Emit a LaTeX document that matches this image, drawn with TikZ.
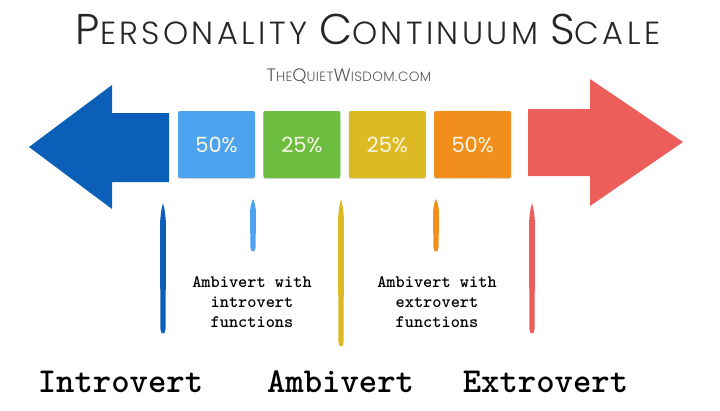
\documentclass[tikz,border=0pt]{standalone}
\usepackage{fontspec}
\usepackage{xcolor}
\usetikzlibrary{positioning,shadows}
\newfontfamily\titlefont{Poppins Light}[LetterSpace=10.5]
\newfontfamily\sitefont{Poppins Light}[LetterSpace=3]
\newfontfamily\pctfont{Poppins}

\definecolor{introblue}{RGB}{11,95,184}
\definecolor{lightblue}{RGB}{77,163,240}
\definecolor{ambigreen}{RGB}{108,189,64}
\definecolor{ambiyellow}{RGB}{221,186,36}
\definecolor{extroorange}{RGB}{242,142,28}
\definecolor{extrored}{RGB}{235,94,90}
\definecolor{boxtext}{RGB}{250,246,228}

\begin{document}
\begin{tikzpicture}[x=1pt, y=-1pt,
        pctbox/.style={rectangle, rounded corners=2pt, minimum width=77pt, minimum height=67pt, inner sep=0pt, text=boxtext, font=\pctfont\fontsize{21}{21}\selectfont, drop shadow={opacity=0.25, shadow xshift=0pt, shadow yshift=-1.2pt}},
        typelabel/.style={font=\ttfamily\bfseries\fontsize{35}{35}\selectfont, anchor=base},
        notelabel/.style={font=\ttfamily\bfseries\fontsize{17.5}{20}\selectfont, align=center}
    ]
    \useasboundingbox (0,0) rectangle (720,410);

    % Heading
    \node[anchor=base, font=\titlefont, text=black!85] (title) at (368,44) {%
        {\fontsize{43}{43}\selectfont P}\fontsize{32}{32}\selectfont ERSONALITY
        {\fontsize{43}{43}\selectfont C}ONTINUUM
        {\fontsize{43}{43}\selectfont S}CALE};
    \node[anchor=base, font=\sitefont, text=black!65] (site) at (349,81) {%
        {\fontsize{18}{18}\selectfont T}\fontsize{13.5}{13.5}\selectfont HE{\fontsize{18}{18}\selectfont Q}UIET{\fontsize{18}{18}\selectfont W}ISDOM.COM};

    % Big arrows at both ends
    \fill[introblue] (29,147) -- (112,85) -- (112,113) -- (169,113) -- (169,182) -- (112,182) -- (112,209) -- cycle;
    \fill[extrored] (683,142) -- (590,79) -- (590,109) -- (528,109) -- (528,176) -- (590,176) -- (590,206) -- cycle;

    % Percentage boxes
    \node[pctbox, fill=lightblue] (box1) at (216.5,144.5) {50\%};
    \node[pctbox, fill=ambigreen, right=8pt of box1] (box2) {25\%};
    \node[pctbox, fill=ambiyellow, right=8pt of box2] (box3) {25\%};
    \node[pctbox, fill=extroorange, right=8pt of box3] (box4) {50\%};

    % Brush marks
    \fill[introblue, shift={(163,203)}] (0,0) .. controls (2,8) .. (3,20) -- (2.6,126) .. controls (2.5,132) and (-2.5,132) .. (-2.6,126) -- (-3,20) .. controls (-2,8) .. cycle;
    \fill[lightblue, shift={(253,199)}] (0,0) .. controls (2,5) .. (3,12) -- (2.6,48) .. controls (2.5,54) and (-2.5,54) .. (-2.6,48) -- (-3,12) .. controls (-2,5) .. cycle;
    \fill[ambiyellow, shift={(341,199)}] (0,0) .. controls (2,8) .. (3,20) -- (2.6,143) .. controls (2.5,149) and (-2.5,149) .. (-2.6,143) -- (-3,20) .. controls (-2,8) .. cycle;
    \fill[extroorange, shift={(436,199)}] (0,0) .. controls (2,5) .. (3,12) -- (2.6,48) .. controls (2.5,54) and (-2.5,54) .. (-2.6,48) -- (-3,12) .. controls (-2,5) .. cycle;
    \fill[extrored, shift={(532,203)}] (0,0) .. controls (2,8) .. (3,20) -- (2.6,126) .. controls (2.5,132) and (-2.5,132) .. (-2.6,126) -- (-3,20) .. controls (-2,8) .. cycle;

    % Notes under the boxes
    \node[notelabel] (intronote) at (252,302) {Ambivert with\\introvert\\functions};
    \node[notelabel] (extronote) at (437,302) {Ambivert with\\extrovert\\functions};

    % Type names
    \node[typelabel] (intro) at (120.5,392) {Introvert};
    \node[typelabel] (ambi) at (340.5,392) {Ambivert};
    \node[typelabel] (extro) at (545.5,392) {Extrovert};

\end{tikzpicture}
\end{document}
